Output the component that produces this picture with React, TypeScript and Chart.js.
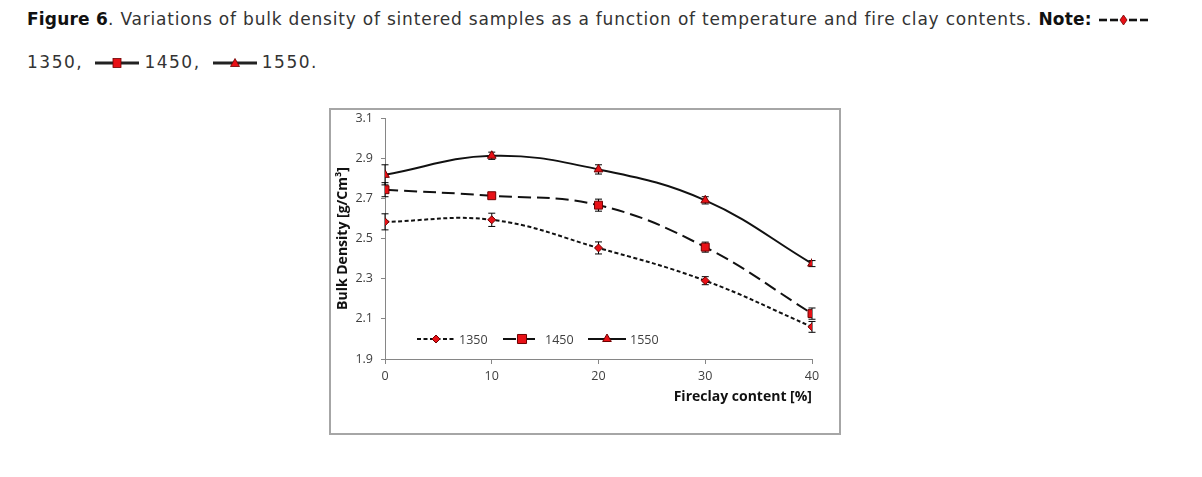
import React, { useEffect, useRef } from 'react';
import { Chart, registerables } from 'chart.js';

Chart.register(...registerables);

// ---- data ----
const fireclayContent = [0, 10, 20, 30, 40];
const seriesLabels = ['1350', '1450', '1550'];
const density1350 = [2.583, 2.593, 2.453, 2.29, 2.06];
const error1350 = [0.04, 0.033, 0.03, 0.02, 0.027];
const density1450 = [2.743, 2.713, 2.666, 2.457, 2.126];
const error1450 = [0.035, 0.01, 0.03, 0.025, 0.028];
const density1550 = [2.817, 2.912, 2.844, 2.69, 2.375];
const error1550 = [0.05, 0.018, 0.023, 0.018, 0.015];
const yTickMin = 1.9;
const yTickMax = 3.1;
const yTickStep = 0.2;
const xTickMin = 0;
const xTickMax = 40;
const xTickStep = 10;

const RED = 'rgb(232,16,22)';
const DARK_RED = 'rgb(110,0,0)';
const LINE = '#111111';
const TICK_FONT = { family: '"Open Sans", sans-serif', size: 12.5 };
const TITLE_FONT = { family: '"Open Sans", sans-serif', size: 14, weight: 'bold' as const };

function drawMarker(ctx: CanvasRenderingContext2D, style: string, x: number, y: number, r: number) {
  ctx.save();
  ctx.fillStyle = RED;
  ctx.strokeStyle = DARK_RED;
  ctx.lineWidth = 1;
  ctx.setLineDash([]);
  ctx.beginPath();
  if (style === 'rectRot') {
    ctx.moveTo(x - r, y);
    ctx.lineTo(x, y - r);
    ctx.lineTo(x + r, y);
    ctx.lineTo(x, y + r);
    ctx.closePath();
  } else if (style === 'rect') {
    const s = r * Math.SQRT1_2;
    ctx.rect(x - s, y - s, 2 * s, 2 * s);
  } else {
    const h = r * 1.5;
    const w = r * Math.sqrt(3) / 2;
    ctx.moveTo(x, y - r);
    ctx.lineTo(x + w, y + h - r);
    ctx.lineTo(x - w, y + h - r);
    ctx.closePath();
  }
  ctx.fill();
  ctx.stroke();
  ctx.restore();
}

const errorBarPlugin = {
  id: 'errorBars',
  beforeDatasetsDraw(chart: any) {
    const { ctx } = chart;
    const xs = chart.scales.x;
    const ys = chart.scales.y;
    chart.data.datasets.forEach((ds: any) => {
      ds.data.forEach((pt: any, j: number) => {
        const e = ds.errors[j];
        const px = xs.getPixelForValue(pt.x);
        const top = ys.getPixelForValue(pt.y + e);
        const bot = ys.getPixelForValue(pt.y - e);
        ctx.save();
        ctx.strokeStyle = '#000';
        ctx.lineWidth = 1;
        ctx.beginPath();
        ctx.moveTo(px, top);
        ctx.lineTo(px, bot);
        ctx.moveTo(px - 3.5, top);
        ctx.lineTo(px + 3.5, top);
        ctx.moveTo(px - 3.5, bot);
        ctx.lineTo(px + 3.5, bot);
        ctx.stroke();
        ctx.restore();
      });
    });
  },
};

const legendPlugin = {
  id: 'insideLegend',
  afterDraw(chart: any) {
    const { ctx } = chart;
    const y = 229;
    const starts = [86, 172, 257];
    chart.data.datasets.forEach((ds: any, i: number) => {
      const x0 = starts[i];
      ctx.save();
      ctx.strokeStyle = LINE;
      ctx.lineWidth = 2;
      ctx.setLineDash(ds.borderDash || []);
      ctx.beginPath();
      ctx.moveTo(x0, y);
      ctx.lineTo(x0 + 38, y);
      ctx.stroke();
      ctx.restore();
      drawMarker(ctx, ds.pointStyle, x0 + 19, y, ds.pointRadius + (ds.pointStyle === 'rect' ? 0.8 : 0));
      ctx.save();
      ctx.fillStyle = '#404040';
      ctx.font = '12.5px "Open Sans", sans-serif';
      ctx.textBaseline = 'middle';
      ctx.textAlign = 'left';
      ctx.fillText(ds.label, x0 + 42, y + 1);
      ctx.restore();
    });
  },
};

function toPoints(values: number[]) {
  return values.map((v, i) => ({ x: fireclayContent[i], y: v }));
}

function LegendIcon({ kind }: { kind: string }) {
  if (kind === 'diamond') {
    return (
      <svg width="50" height="12" style={{ verticalAlign: 'middle', marginLeft: 1 }}>
        <g stroke="#111" strokeWidth="2.6">
          <line x1="0" y1="6" x2="8" y2="6" />
          <line x1="11" y1="6" x2="19" y2="6" />
          <line x1="30" y1="6" x2="38" y2="6" />
          <line x1="41" y1="6" x2="49" y2="6" />
        </g>
        <polygon points="24.5,1 28,6 24.5,11 21,6" fill={RED} stroke={DARK_RED} strokeWidth="0.8" />
      </svg>
    );
  }
  return (
    <svg width="44" height="12" style={{ verticalAlign: 'middle', margin: '0 5px 0 6px' }}>
      <line x1="0" y1="6" x2="44" y2="6" stroke="#222" strokeWidth="3" />
      {kind === 'square' ? (
        <rect x="18" y="1.5" width="8" height="9" fill={RED} stroke={DARK_RED} strokeWidth="0.8" />
      ) : (
        <polygon points="22,1.5 26.5,9.5 17.5,9.5" fill={RED} stroke={DARK_RED} strokeWidth="0.8" />
      )}
    </svg>
  );
}

export default function App() {
  const canvasRef = useRef<HTMLCanvasElement | null>(null);

  useEffect(() => {
    const canvas = canvasRef.current;
    if (!canvas) return;
    const common = {
      borderColor: LINE,
      borderWidth: 2,
      tension: 0.4,
      pointBackgroundColor: RED,
      pointBorderColor: DARK_RED,
      pointBorderWidth: 1,
      fill: false,
    };
    const chart = new Chart(canvas, {
      type: 'line',
      data: {
        datasets: [
          { ...common, label: seriesLabels[0], data: toPoints(density1350), errors: error1350, borderDash: [4, 2.5], pointStyle: 'rectRot', pointRadius: 4 } as any,
          { ...common, label: seriesLabels[1], data: toPoints(density1450), errors: error1450, borderDash: [13, 6], pointStyle: 'rect', pointRadius: 5.6 } as any,
          { ...common, label: seriesLabels[2], data: toPoints(density1550), errors: error1550, borderDash: [], pointStyle: 'triangle', pointRadius: 5 } as any,
        ],
      },
      options: {
        animation: false,
        responsive: false,
        devicePixelRatio: 1,
        layout: { padding: { top: 8, right: 27, left: 0, bottom: 0 } },
        plugins: { legend: { display: false }, tooltip: { enabled: false }, title: { display: false } },
        scales: {
          x: {
            type: 'linear',
            min: xTickMin,
            max: xTickMax,
            ticks: { stepSize: xTickStep, color: '#404040', font: TICK_FONT, padding: 5, maxRotation: 0 },
            grid: { drawOnChartArea: false, drawTicks: true, tickLength: 5, color: '#868686' },
            border: { display: true, color: '#868686', width: 1 },
            title: { display: true, text: 'Fireclay content [%]', align: 'end', color: '#111', font: TITLE_FONT, padding: { top: 0, bottom: 28 } },
            afterFit: (s: any) => {
              s.height = 74;
              s.paddingLeft = 0;
              s.paddingRight = 0;
            },
          },
          y: {
            type: 'linear',
            min: yTickMin,
            max: yTickMax,
            ticks: {
              stepSize: yTickStep,
              color: '#404040',
              font: TICK_FONT,
              padding: 8,
              callback: (v: any) => Number(v).toFixed(1),
            },
            grid: { drawOnChartArea: false, drawTicks: true, tickLength: 4, color: '#868686' },
            border: { display: true, color: '#868686', width: 1 },
            title: { display: true, text: 'Bulk Density [g/Cm³]', color: '#111', font: TITLE_FONT, padding: { top: 4, bottom: 0 } },
            afterFit: (s: any) => {
              s.width = 54;
              s.paddingTop = 0;
              s.paddingBottom = 0;
            },
          },
        },
      } as any,
      plugins: [errorBarPlugin, legendPlugin],
    });
    return () => chart.destroy();
  }, []);

  return (
    <div>
      <div
        style={{
          position: 'absolute',
          left: 27,
          top: -1.7,
          fontFamily: '"DejaVu Sans", sans-serif',
          fontSize: 17,
          letterSpacing: '0.8px',
          lineHeight: '43px',
          color: '#333',
          whiteSpace: 'nowrap',
        }}
      >
        <span style={{ color: '#111', fontWeight: 'bold', letterSpacing: '0.2px' }}>Figure 6</span>. Variations of bulk density of sintered samples as a function of temperature and fire clay contents.{' '}
        <span style={{ color: '#111', fontWeight: 'bold', letterSpacing: '0.2px' }}>Note:</span> <LegendIcon kind="diamond" />
        <br />
        <span style={{ letterSpacing: '1.5px' }}>1350,</span> <LegendIcon kind="square" /><span style={{ letterSpacing: '1.5px' }}>1450,</span> <LegendIcon kind="triangle" /><span style={{ letterSpacing: '1.5px' }}>1550.</span>
      </div>
      <div
        style={{
          position: 'absolute',
          left: 329,
          top: 108,
          width: 508,
          height: 323,
          border: '2px solid #a6a6a6',
          background: '#fff',
        }}
      >
        <canvas ref={canvasRef} width={508} height={323} style={{ display: 'block' }} />
      </div>
    </div>
  );
}
